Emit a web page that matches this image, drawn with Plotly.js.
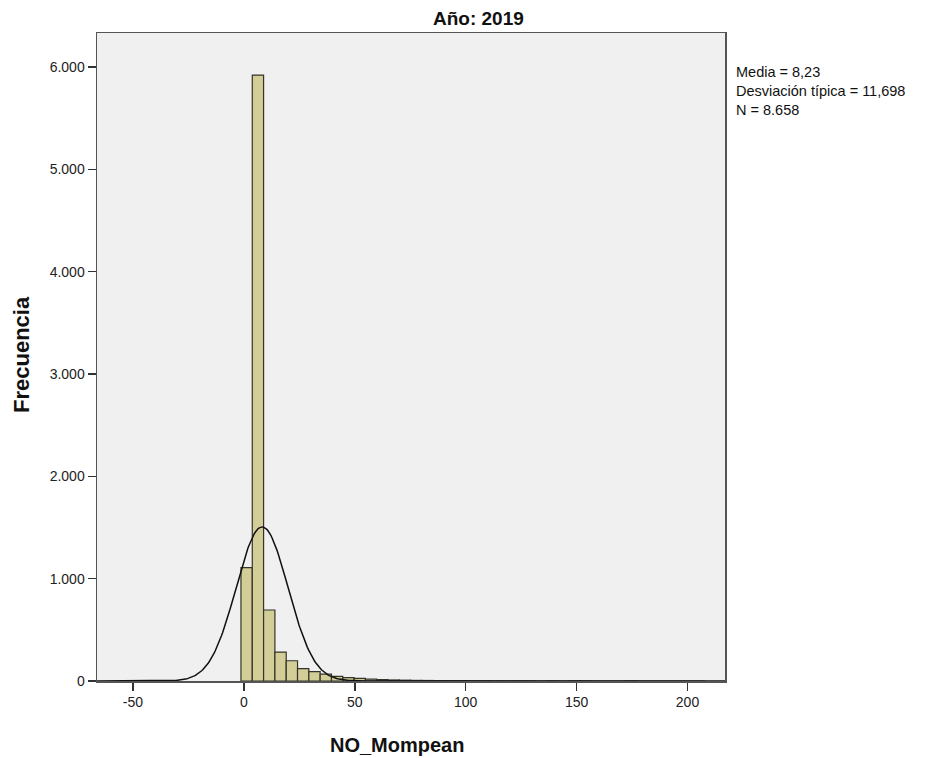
<!DOCTYPE html>
<html>
<head>
<meta charset="utf-8">
<script src="https://cdn.plot.ly/plotly-3.0.1.min.js"></script>
<style>
html,body{margin:0;padding:0;background:#fff;}
#chart{width:942px;height:758px;}
</style>
</head>
<body>
<div id="chart"></div>
<script>
// Histogram data
const binStart = -1.3;
const binWidth = 5.1;
const counts = [1107, 5920, 694, 283, 198, 120, 91, 68, 45, 33, 25, 18, 14, 10, 8, 6, 5, 4, 3, 3, 2, 2, 1, 1, 1, 1, 0, 1, 0, 1, 1, 0, 0, 0, 1, 0, 0, 0, 0, 0, 0];
// Summary statistics shown in the chart
const mean = 8.23;
const sd = 11.698;
const N = 8658;
const statsLines = ["Media = 8,23", "Desviación típica = 11,698", "N = 8.658"];
const yTicks = [0, 1000, 2000, 3000, 4000, 5000, 6000];
const xTicks = [-50, 0, 50, 100, 150, 200];
const xRange = [-66.2, 216.9];
const yRange = [0, 6332];

const centers = counts.map((c, i) => binStart + binWidth * (i + 0.5));

// Normal curve defined by the displayed mean / sd / N
const cx = [], cy = [];
for (let k = 0; k <= 600; k++) {
  const x = xRange[0] + (xRange[1] - xRange[0]) * k / 600;
  cx.push(x);
  cy.push(N * binWidth / (sd * Math.sqrt(2 * Math.PI)) * Math.exp(-0.5 * Math.pow((x - mean) / sd, 2)));
}

const font = "Liberation Sans, Arial, sans-serif";

const traces = [
  {
    type: 'bar', x: centers, y: counts, width: binWidth,
    marker: {color: '#d3ce98', line: {color: '#33332a', width: 1.2}},
    hoverinfo: 'x+y', showlegend: false
  },
  {
    type: 'scatter', mode: 'lines', x: cx, y: cy,
    line: {color: '#111', width: 1.5}, showlegend: false, hoverinfo: 'skip'
  }
];

// plot area in pixels: x 97..725, y 33..681
const annots = [
  {text: '<b>Año: 2019</b>', x: 478, y: 18, size: 19},
  {text: '<b>NO_Mompean</b>', x: 397, y: 745, size: 20},
];
const annotations = annots.map(a => ({
  text: a.text, xref: 'paper', yref: 'paper',
  x: (a.x - 97) / 628, y: (681 - a.y) / 648,
  xanchor: 'center', yanchor: 'middle', showarrow: false,
  font: {family: font, size: a.size, color: '#111'}
}));
annotations.push({
  text: '<b>Frecuencia</b>', xref: 'paper', yref: 'paper',
  x: (21 - 97) / 628, y: (681 - 355) / 648, textangle: -90,
  xanchor: 'center', yanchor: 'middle', showarrow: false,
  font: {family: font, size: 22, color: '#111'}
});
annotations.push({
  text: statsLines.join('<br>'), xref: 'paper', yref: 'paper',
  x: (735 - 97) / 628, y: (681 - 63) / 648,
  xanchor: 'left', yanchor: 'top', align: 'left', showarrow: false,
  borderpad: 0,
  font: {family: font, size: 14.5, color: '#111'}
});

const layout = {
  width: 942, height: 758,
  margin: {l: 97, r: 217, t: 33, b: 77},
  paper_bgcolor: '#ffffff',
  plot_bgcolor: '#f0f0f0',
  separators: ',.',
  bargap: 0,
  font: {family: font, size: 14, color: '#222'},
  xaxis: {
    range: xRange, tickvals: xTicks, ticktext: xTicks.map(String),
    showgrid: false, zeroline: false,
    showline: true, mirror: true, linecolor: '#555', linewidth: 1.5,
    ticks: 'outside', ticklen: 8, tickwidth: 1.5, tickcolor: '#333',
    tickfont: {family: font, size: 14, color: '#222'}
  },
  yaxis: {
    range: yRange, tickvals: yTicks, tickformat: ',d',
    showgrid: false, zeroline: false,
    showline: true, mirror: true, linecolor: '#555', linewidth: 1.5,
    ticks: 'outside', ticklen: 8, tickwidth: 1.5, tickcolor: '#333',
    tickfont: {family: font, size: 14, color: '#222'}
  },
  annotations: annotations
};

Plotly.newPlot('chart', traces, layout, {displayModeBar: false, staticPlot: true});
</script>
</body>
</html>
